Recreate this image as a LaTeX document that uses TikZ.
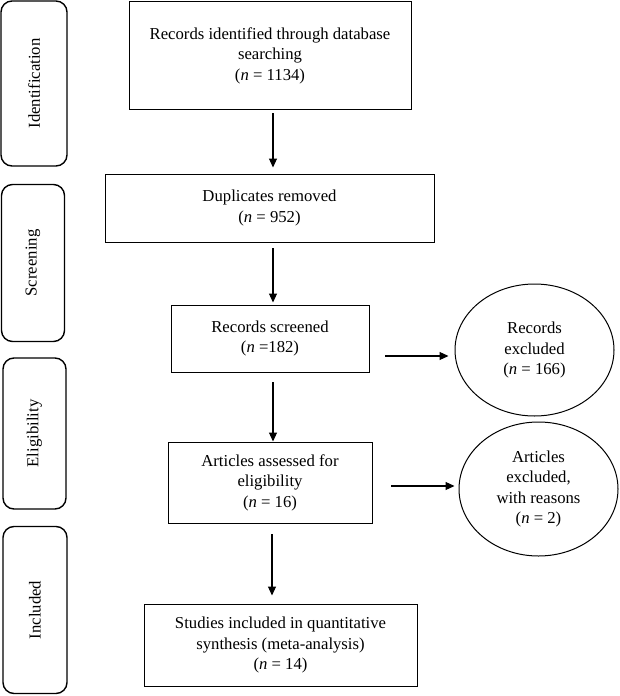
\documentclass[tikz,border=0pt]{standalone}
\usepackage{fontspec}
\setmainfont{Liberation Serif}
\usetikzlibrary{shapes.geometric,arrows.meta}
\tikzstyle{every node}=[font=\fontsize{16.7}{20.5}\selectfont,align=center,inner sep=0pt]
\tikzstyle{phasebox}=[draw=black,line width=1.4pt,rounded corners=11pt,rotate=90]
\tikzstyle{flowbox}=[draw=black,line width=1pt]
\tikzstyle{exclbox}=[draw=black,line width=1pt,ellipse]
\tikzstyle{arr}=[line width=1.1pt,-{Triangle[length=9pt,width=8pt]}]

\begin{document}
\begin{tikzpicture}[x=1pt,y=-1pt]
  \useasboundingbox (0,0) rectangle (620,696);

  \node[phasebox,minimum width=165,minimum height=66] (ident) at (34,83.5) {Identification};
  \node[phasebox,minimum width=157,minimum height=63] (screen) at (33,263) {Screening};
  \node[phasebox,minimum width=151,minimum height=63] (elig) at (34.5,433.5) {Eligibility};
  \node[phasebox,minimum width=167,minimum height=64] (incl) at (35,610) {Included};

  \node[flowbox,minimum width=282,minimum height=108] (rec) at (270,55.5)
    {Records identified through database\\searching\\(\textit{n} = 1134)};
  \node[flowbox,minimum width=329,minimum height=68] (dup) at (269.5,208)
    {Duplicates removed\\(\textit{n} = 952)};
  \node[flowbox,minimum width=198,minimum height=67] (scr) at (270,338.5)
    {Records screened\\(\textit{n} =182)};
  \node[flowbox,minimum width=204,minimum height=81] (art) at (270,482.5)
    {Articles assessed for\\eligibility\\(\textit{n} = 16)};
  \node[flowbox,minimum width=273,minimum height=82] (stud) at (280.5,645)
    {Studies included in quantitative\\synthesis (meta-analysis)\\(\textit{n} = 14)};

  \node[exclbox,minimum width=159,minimum height=132] (recex) at (534.5,350)
    {Records\\excluded\\(\textit{n} = 166)};
  \node[exclbox,minimum width=159,minimum height=134] (artex) at (538.5,489)
    {Articles\\excluded,\\with reasons\\(\textit{n} = 2)};

  \coordinate (s1) at (273,113);
  \coordinate (s2) at (273,248);
  \coordinate (s3) at (273,382);
  \coordinate (s4) at (272,534);
  \coordinate (h1) at (385,356);
  \coordinate (h2) at (391,486);

  \draw[arr,shorten >=6pt] (s1) -- (s1 |- dup.north);
  \draw[arr,shorten >=2pt] (s2) -- (s2 |- scr.north);
  \draw[arr] (s3) -- (s3 |- art.north);
  \draw[arr,shorten >=8pt] (s4) -- (s4 |- stud.north);
  \draw[arr,shorten >=6pt] (h1) -- (h1 -| recex.west);
  \draw[arr,shorten >=4pt] (h2) -- (h2 -| artex.west);
\end{tikzpicture}
\end{document}
